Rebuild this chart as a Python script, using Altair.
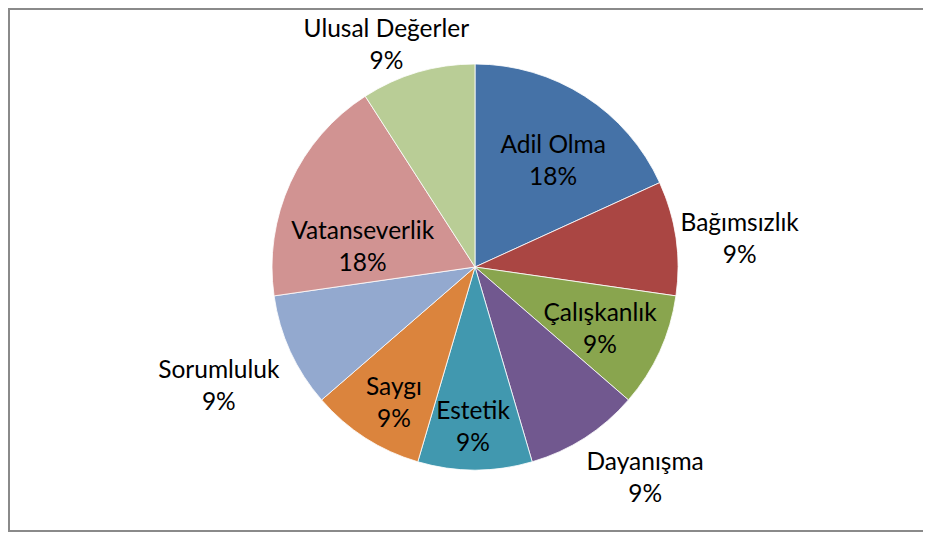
import altair as alt
import pandas as pd

# ---- data ----
categories = ["Adil Olma", "Bağımsızlık", "Çalışkanlık", "Dayanışma", "Estetik",
              "Saygı", "Sorumluluk", "Vatanseverlik", "Ulusal Değerler"]
values = [2, 1, 1, 1, 1, 1, 1, 2, 1]

# ---- styling / label layout (not data) ----
colors = ["#4572A7", "#AA4643", "#89A54E", "#71588F", "#4198AF",
          "#DB843D", "#93A9CF", "#D19392", "#B9CD96"]
label_radius = [131, 266, 140, 272, 161, 159, 283, 114, 238]
label_nudge_deg = [3.9, 2.4, 2.2, -6.0, 0.7, -2.1, -0.6, -14.9, -5.5]

df = pd.DataFrame({
    "cat": categories,
    "value": values,
    "idx": list(range(len(categories))),
    "lr": label_radius,
    "nudge": label_nudge_deg,
})

W, H = 915, 524
CX, CY, R = 467, 259, 203
FONT = "Lato"
LINE_H = 32

base = alt.Chart(df)

arcs = base.mark_arc(outerRadius=R, stroke="white", strokeWidth=0.8).encode(
    theta=alt.Theta("value:Q", stack=True),
    order=alt.Order("idx:Q"),
    color=alt.Color("cat:N", scale=alt.Scale(domain=categories, range=colors), legend=None),
    x=alt.value(CX),
    y=alt.value(CY),
)

labels = base.transform_joinaggregate(
    total="sum(value)"
).transform_window(
    cum="sum(value)", sort=[alt.SortField("idx")], frame=[None, 0]
).transform_calculate(
    ang="(datum.cum - datum.value/2) / datum.total * 2 * PI + datum.nudge * PI / 180",
    txt="datum.cat + '\\n' + format(datum.value / datum.total, '.0%')",
).mark_text(
    font=FONT, fontSize=24.5, lineBreak="\n", lineHeight=LINE_H, dy=-LINE_H / 2,
    align="center", baseline="middle", color="black",
).encode(
    theta=alt.Theta("ang:Q", scale=None),
    radius=alt.Radius("lr:Q", scale=None),
    text="txt:N",
    x=alt.value(CX),
    y=alt.value(CY),
)

# chart-area frame (right edge lies outside the window in the reference)
frame_style = dict(color="#8a8a8a", strokeWidth=1.5)
top = base.mark_rule(**frame_style).encode(x=alt.value(0), x2=alt.value(W + 20), y=alt.value(0.75))
left = base.mark_rule(**frame_style).encode(x=alt.value(0.75), y=alt.value(0), y2=alt.value(H))
bottom = base.mark_rule(**frame_style).encode(x=alt.value(0), x2=alt.value(W + 20), y=alt.value(H - 0.75))

chart = alt.layer(arcs, labels, top, left, bottom).properties(
    width=W, height=H,
    autosize=alt.AutoSizeParams(type="none"),
    padding=0,
).configure_view(stroke=None)

chart.save("out.html", embed_options={"renderer": "svg", "actions": False})
